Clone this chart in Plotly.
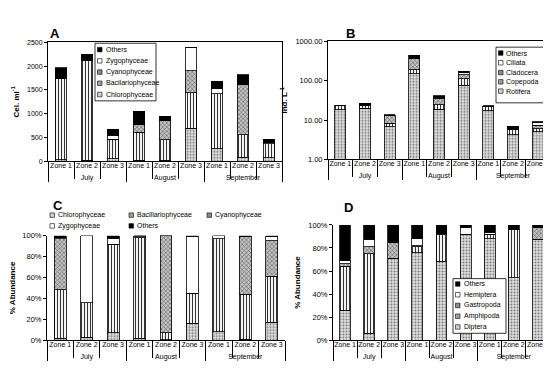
import plotly.graph_objects as go

W, H = 551, 385

months = ["July", "July", "July", "August", "August", "August", "September", "September", "September"]
zones = ["Zone 1", "Zone 2", "Zone 3", "Zone 1", "Zone 2", "Zone 3", "Zone 1", "Zone 2", "Zone 3"]

# Panel A: phytoplankton density (Cel. ml-1)
a_names = ["Chlorophyceae", "Bacilariophyceae", "Cyanophyceae", "Zygophyceae", "Others"]
a_chloro = [30, 20, 60, 20, 20, 700, 265, 90, 80]
a_bacil = [1705, 2090, 410, 590, 430, 745, 1150, 465, 290]
a_cyano = [0, 0, 0, 170, 400, 455, 0, 1065, 0]
a_zygo = [0, 0, 80, 0, 0, 500, 115, 0, 20]
a_others = [230, 135, 125, 270, 95, 0, 150, 200, 75]

# Panel B: zooplankton density (Ind. L-1)
b_names = ["Rotifera", "Copepoda", "Cladocera", "Ciliata", "Others"]
b_rotifera = [18.5, 20, 6.7, 150, 19, 77, 17, 4.2, 5.1]
b_copepoda = [4.5, 3, 1.6, 40, 5.5, 36, 4.6, 1.5, 1.0]
b_cladocera = [0, 1, 4.8, 180, 11.5, 30, 0, 0, 1.3]
b_ciliata = [0, 0, 0.3, 0, 2, 14, 0, 0, 1.5]
b_others = [0.7, 2.5, 0.2, 78, 3, 16, 1.7, 1.2, 0.3]

# Panel C: phytoplankton % abundance
c_names = ["Chlorophyceae", "Bacillariophyceae", "Cyanophyceae", "Zygophyceae", "Others"]
c_chloro = [2, 3, 7, 2, 0.5, 16, 8, 1, 17]
c_bacil = [46, 33, 85, 96, 6.5, 29, 89, 43, 44]
c_cyano = [49, 0, 0, 1, 93, 0, 0, 55, 34]
c_zygo = [1, 64, 5.5, 1, 0, 54.5, 3, 0, 4]
c_others = [2, 0, 2.5, 0, 0, 0.5, 0, 1, 1]

# Panel D: macroinvertebrate % abundance
d_names = ["Diptera", "Amphipoda", "Gastropoda", "Hemiptera", "Others"]
d_diptera = [26, 6, 71, 76, 68.5, 92, 88, 54, 87]
d_amphipoda = [38, 69, 0, 5, 23, 0, 3.5, 42, 0.5]
d_gastropoda = [2.5, 6, 14, 1, 1, 0, 0.5, 0, 10]
d_hemiptera = [2.5, 6.5, 1, 6, 0, 5.5, 1.5, 0, 0]
d_others = [31, 12.5, 14, 12, 7.5, 2.5, 6.5, 4, 2.5]

FONT = "Liberation Sans, Arial, sans-serif"

styles = [
    dict(color="#d8d8d8", pattern=dict(shape=".", fgcolor="#7a7a7a", bgcolor="#e4e4e4", size=3, solidity=0.4, fillmode="replace")),
    dict(color="#9a9a9a", pattern=dict(shape="|", fgcolor="#333333", bgcolor="#f4f4f4", size=3, solidity=0.35, fillmode="replace")),
    dict(color="#8a8a8a", pattern=dict(shape="x", fgcolor="#444444", bgcolor="#c4c4c4", size=3, solidity=0.3, fillmode="replace")),
    dict(color="white"),
    dict(color="black"),
]
swatch_colors = ["#d0d0d0", "#a0a0a0", "#8c8c8c", "white", "black"]

fig = go.Figure()

panels = [
    ("x", "y", a_names, [a_chloro, a_bacil, a_cyano, a_zygo, a_others]),
    ("x2", "y2", b_names, [b_rotifera, b_copepoda, b_cladocera, b_ciliata, b_others]),
    ("x3", "y3", c_names, [c_chloro, c_bacil, c_cyano, c_zygo, c_others]),
    ("x4", "y4", d_names, [d_diptera, d_amphipoda, d_gastropoda, d_hemiptera, d_others]),
]

for xa, ya, names, series in panels:
    for i, (nm, vals) in enumerate(zip(names, series)):
        st = styles[i]
        marker = dict(color=st["color"], line=dict(color="black", width=0.8))
        if "pattern" in st:
            marker["pattern"] = st["pattern"]
        fig.add_trace(go.Bar(
            x=[months, zones], y=vals, name=nm, xaxis=xa, yaxis=ya,
            marker=marker, showlegend=False,
        ))

def px_x(x):
    return x / W

def px_y(y):
    return 1 - y / H

def xaxis_common(domain, mirror=False):
    return dict(
        domain=domain, anchor=None, type="multicategory",
        showline=True, linecolor="black", linewidth=1, mirror=mirror,
        ticks="outside", tickson="boundaries", ticklen=17, tickcolor="black", tickwidth=1,
        ticklabelstandoff=-3, tickangle=0,
        showdividers=True, dividercolor="black", dividerwidth=1,
        tickfont=dict(size=7, family=FONT, color="black"),
        showgrid=False, zeroline=False,
    )

def yaxis_common(domain, mirror=False, fs=7):
    return dict(
        domain=domain, showline=True, linecolor="black", linewidth=1, mirror=mirror,
        ticks="outside", ticklen=3, tickcolor="black",
        tickfont=dict(size=fs, family=FONT, color="black"),
        showgrid=False, zeroline=False,
    )

xa = xaxis_common([px_x(40), px_x(274)], mirror=True); xa["anchor"] = "y"
xb = xaxis_common([px_x(320), px_x(542)], mirror=True); xb["anchor"] = "y2"
xc = xaxis_common([px_x(39), px_x(277)]); xc["anchor"] = "y3"
xd = xaxis_common([px_x(325), px_x(542)]); xd["anchor"] = "y4"

ya = yaxis_common([px_y(153), px_y(31)], mirror=True)
ya.update(anchor="x", range=[0, 2500], dtick=500,
          title=dict(text="<b>Cel. ml<sup>-1</sup></b>", font=dict(size=8, family=FONT, color="black"), standoff=6))
yb = yaxis_common([px_y(151), px_y(30)], mirror=True, fs=7.5)
yb.update(anchor="x2", type="log", range=[0, 3], tickvals=[1, 10, 100, 1000],
          ticktext=["1.00", "10.00", "100.00", "1000.00"],
          title=dict(text="<b>Ind. L<sup>-1</sup></b>", font=dict(size=8, family=FONT, color="black"), standoff=6))
yc = yaxis_common([px_y(336), px_y(229)], fs=7.5)
yc.update(anchor="x3", range=[0, 100], dtick=20, ticksuffix="%",
          title=dict(text="<b>% Abundance</b>", font=dict(size=8, family=FONT, color="black"), standoff=6))
yd = yaxis_common([px_y(336), px_y(218)], fs=7.5)
yd.update(anchor="x4", range=[0, 100], dtick=20, ticksuffix="%",
          title=dict(text="<b>% Abundance</b>", font=dict(size=8, family=FONT, color="black"), standoff=6))

fig.update_layout(
    width=W, height=H, autosize=False,
    margin=dict(l=0, r=0, t=0, b=0),
    paper_bgcolor="white", plot_bgcolor="white",
    barmode="stack", bargap=0.55,
    font=dict(family=FONT, size=7, color="black"),
    xaxis=xa, xaxis2=xb, xaxis3=xc, xaxis4=xd,
    yaxis=ya, yaxis2=yb, yaxis3=yc, yaxis4=yd,
    showlegend=False,
)

shapes = []
annotations = []

# panel letters
for letter, lx, ly in [("A", 47, 22), ("B", 342, 22), ("C", 50, 198), ("D", 340, 200)]:
    annotations.append(dict(x=px_x(lx), y=px_y(ly), xref="paper", yref="paper", text=f"<b>{letter}</b>",
                            showarrow=False, font=dict(size=13, family=FONT, color="black"),
                            xanchor="center", yanchor="middle"))

def add_legend(names, order, box, sw_x, txt_x, rows_y, border=True):
    if box is not None:
        x0, y0, x1, y1 = box
        shapes.append(dict(type="rect", xref="paper", yref="paper",
                           x0=px_x(x0), x1=px_x(x1), y0=px_y(y1), y1=px_y(y0),
                           line=dict(color="black", width=0.8 if border else 0), fillcolor="white"))
    for idx, (sx, tx, cy) in zip(order, zip(sw_x, txt_x, rows_y)):
        shapes.append(dict(type="rect", xref="paper", yref="paper",
                           x0=px_x(sx), x1=px_x(sx + 4.5), y0=px_y(cy + 2.3), y1=px_y(cy - 2.3),
                           line=dict(color="black", width=0.6), fillcolor=swatch_colors[idx]))
        annotations.append(dict(x=px_x(tx), y=px_y(cy), xref="paper", yref="paper", text=names[idx],
                                showarrow=False, xanchor="left", yanchor="middle",
                                font=dict(size=7, family=FONT, color="black")))

# Legend A
add_legend(a_names, [4, 3, 2, 1, 0], (87, 32, 148, 91), [89.5] * 5, [96] * 5, [38.5, 50, 61.5, 73, 84.5])
# Legend B
add_legend(b_names, [4, 3, 2, 1, 0], (488, 36, 538, 93), [490.5] * 5, [496] * 5, [42, 52, 62, 71.5, 81])
# Legend C (two rows, three columns)
add_legend(c_names, [0, 1, 2, 3, 4], None, [42, 121, 199, 42, 121], [47.5, 126.5, 204.5, 47.5, 126.5],
           [208, 208, 208, 219, 219], border=False)
# Legend D
add_legend(d_names, [4, 3, 2, 1, 0], (445, 273, 498, 329), [447.5] * 5, [453.5] * 5, [278.5, 289.5, 300.5, 311.5, 322.5])

fig.update_layout(shapes=shapes, annotations=annotations)

fig.write_html("out.html")
